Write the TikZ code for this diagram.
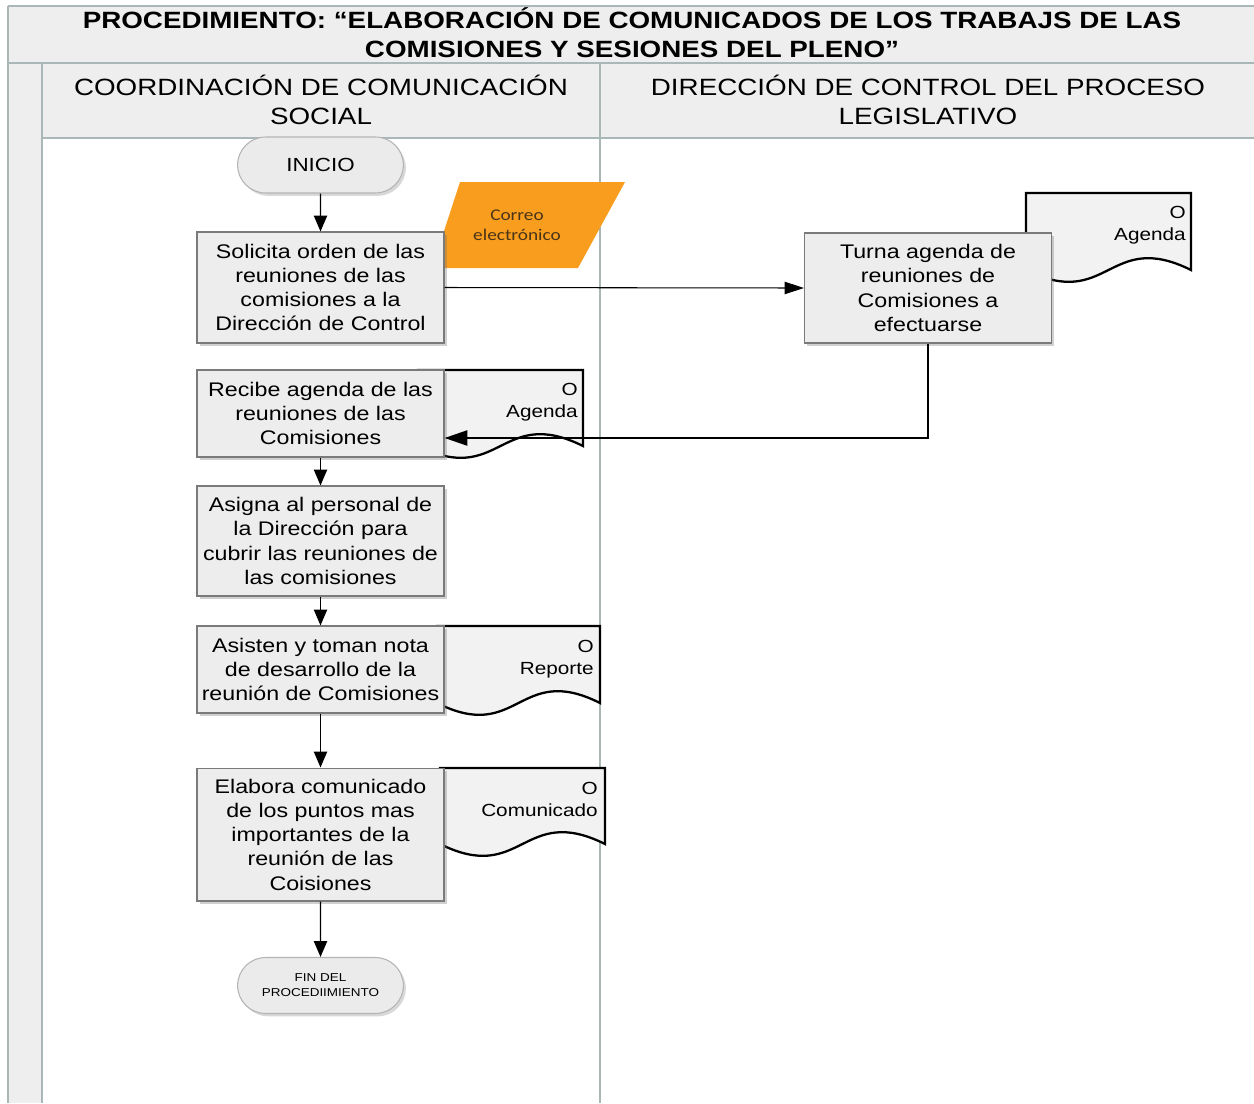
\documentclass[tikz,border=0pt]{standalone}
\usepackage{fontspec}
\setmainfont{Liberation Sans}[FakeStretch=1.18]
\newfontfamily\calibrifont{Carlito}[FakeStretch=1.18]
\usetikzlibrary{arrows.meta,shapes.misc,shadows}

\definecolor{lanegray}{HTML}{EEEEEE}
\definecolor{laneline}{HTML}{A9B7B7}
\definecolor{boxfill}{HTML}{EDEDED}
\definecolor{boxedge}{HTML}{7A7A7A}
\definecolor{termfill}{HTML}{EBEBEB}
\definecolor{termedge}{HTML}{B4B4B4}
\definecolor{docfill}{HTML}{F2F2F2}
\definecolor{mailfill}{HTML}{F89D1E}
\definecolor{mailtext}{HTML}{4A3418}

% document symbol: left x, top y, right x, mid line of the wavy bottom
\newcommand{\docsymbol}[4]{%
  \filldraw[docline] (#1,#4) -- (#1,#2) -- (#3,#2) -- (#3,#4)
    .. controls ({(#1+#3)/2},{#4-41}) and ({(#1+#3)/2},{#4+41}) .. (#1,#4) -- cycle;}

\tikzset{
  lanerule/.style={draw=laneline, line width=0.85pt},
  procbox/.style={draw=boxedge, fill=boxfill, line width=0.6pt,
    minimum width=4.94cm, inner sep=1pt, align=center,
    font=\fontsize{11.2}{13.8}\selectfont,
    drop shadow={shadow xshift=1.6pt, shadow yshift=-1.6pt, opacity=0.3, fill=black!60}},
  term/.style={rounded rectangle, draw=termedge, fill=termfill, line width=0.6pt,
    minimum width=3.55cm, minimum height=1.12cm, align=center,
    drop shadow={shadow xshift=1.4pt, shadow yshift=-1.6pt, opacity=0.25, fill=black!60}},
  docline/.style={draw=black, fill=docfill, line width=1.3pt, line join=miter},
  doctext/.style={anchor=north east, align=right, inner sep=0pt,
    font=\fontsize{10}{12.5}\selectfont},
  flow/.style={-{Triangle[length=9pt,width=7.5pt]}, line width=0.8pt},
  thinflow/.style={-{Triangle[length=11pt,width=7pt]}, line width=0.6pt},
  backflow/.style={-{Triangle[length=13pt,width=8.5pt]}, line width=1.4pt},
}

\begin{document}
\begin{tikzpicture}[x=0.02cm,y=-0.02cm]
\useasboundingbox (0,0) rectangle (1254,1103);
\fill[white] (0,0) rectangle (1254,1103);

% swimlane frame
\fill[lanegray] (8,6) rectangle (1254,63);
\fill[lanegray] (42,63) rectangle (1254,138);
\fill[lanegray] (8,63) rectangle (42,1103);
\draw[lanerule] (8,6) -- (1254,6);
\draw[lanerule] (8,6) -- (8,1103);
\draw[lanerule] (8,63) -- (1254,63);
\draw[lanerule] (42,63) -- (42,1103);
\draw[lanerule] (42,138) -- (1254,138);
\draw[lanerule] (600,63) -- (600,1103);

\node[align=center, font=\bfseries\fontsize{13.4}{16.4}\selectfont] (title) at (632,33)
  {PROCEDIMIENTO: “ELABORACIÓN DE COMUNICADOS DE LOS TRABAJS DE LAS\\COMISIONES Y SESIONES DEL PLENO”};
\node[align=center, font=\fontsize{13.4}{16.4}\selectfont] (laneA) at (321,99.5)
  {COORDINACIÓN DE COMUNICACIÓN\\SOCIAL};
\node[align=center, font=\fontsize{13.4}{16.4}\selectfont] (laneB) at (928,99.5)
  {DIRECCIÓN DE CONTROL DEL PROCESO\\LEGISLATIVO};

% documents and data symbol, behind the process boxes
\docsymbol{1026}{193}{1191}{270}
\node[doctext] (docAgendaB) at (1186,206) {O\\Agenda};
\docsymbol{418}{370}{583}{446}
\node[doctext] (docAgendaA) at (578,383) {O\\Agenda};
\docsymbol{437}{626}{600}{703}
\node[doctext] (docReporte) at (594,640) {O\\Reporte};
\docsymbol{440}{768}{605}{844}
\node[doctext] (docComunicado) at (598,782) {O\\Comunicado};

\fill[mailfill] (460,182) -- (625,182) -- (578,268) -- (432,268) -- cycle;
\node[align=center, text=mailtext, font=\calibrifont\fontsize{9.3}{11.3}\selectfont] (correo) at (517,225)
  {Correo\\electrónico};

% process steps
\node[term, font=\fontsize{10.8}{13}\selectfont] (inicio) at (320.5,165) {INICIO};
\node[procbox, minimum height=2.22cm] (solicita) at (320.5,287.5)
  {Solicita orden de las\\reuniones de las\\comisiones a la\\Dirección de Control};
\node[procbox, minimum height=2.2cm] (turna) at (928,288)
  {Turna agenda de\\reuniones de\\Comisiones a\\efectuarse};
\node[procbox, minimum height=1.74cm] (recibe) at (320.5,413.5)
  {Recibe agenda de las\\reuniones de las\\Comisiones};
\node[procbox, minimum height=2.2cm] (asigna) at (320.5,541)
  {Asigna al personal de\\la Dirección para\\cubrir las reuniones de\\las comisiones};
\node[procbox, minimum height=1.74cm] (asisten) at (320.5,669.5)
  {Asisten y toman nota\\de desarrollo de la\\reunión de Comisiones};
\node[procbox, minimum height=2.66cm] (elabora) at (320.5,834.5)
  {Elabora comunicado\\de los puntos mas\\importantes de la\\reunión de las\\Coisiones};
\node[term, font=\fontsize{6.5}{8.5}\selectfont] (fin) at (320.5,985.5)
  {FIN DEL\\PROCEDIIMIENTO};

% connectors
\coordinate (turnaBend) at (928,438);
\draw[flow] (inicio) -- (solicita);
\draw[thinflow] (solicita.east) -- (turna.west);
\draw[backflow] (turna.south) -- (turnaBend) -- (recibe.east |- turnaBend);
\draw[flow] (recibe) -- (asigna);
\draw[flow] (asigna) -- (asisten);
\draw[flow] (asisten) -- (elabora);
\draw[flow] (elabora) -- (fin);
\end{tikzpicture}
\end{document}
